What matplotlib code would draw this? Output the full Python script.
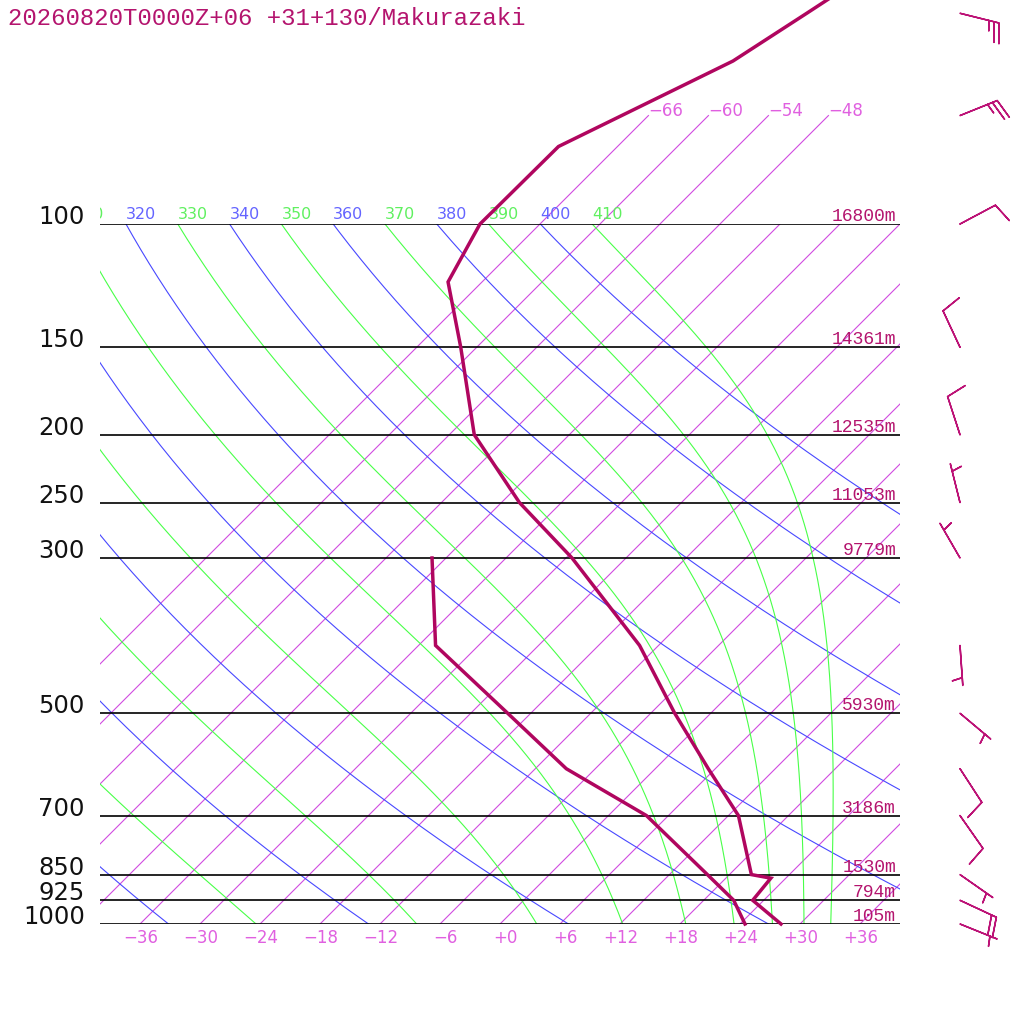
import numpy as np
import matplotlib
matplotlib.use('Agg')
import matplotlib.pyplot as plt
from matplotlib.transforms import Bbox, TransformedBbox

# sounding
pres = [1000, 925, 860, 850, 700, 600, 500, 400, 300, 250, 200, 150, 121, 100, 77.5, 58.5, 50, 40]
temp = [28.1, 22.9, 22.5, 20.2, 13.0, 5.3, -3.6, -13.9, -29.4, -40.2, -51.5, -61.6, -69.4, -72.0,
        -71.9, -63.0, -60.4, -56.8]
dew_pres = [1000, 925, 850, 700, 600, 500, 400, 300]
dewp = [24.5, 21.0, 15.8, 3.8, -8.9, -20.3, -34.3, -43.4]

wind_pres = [1000, 925, 850, 700, 600, 500, 400, 300, 250, 200, 150, 100, 70, 50]
wind_dir = [112, 115, 125, 145, 147, 130, 176, 330, 346, 342, 335, 62, 68, 104]
wind_spd = [5, 20, 5, 10, 10, 5, 5, 5, 5, 10, 10, 10, 25, 25]

levels = [1000, 925, 850, 700, 500, 300, 250, 200, 150, 100]
heights = ['105m', '794m', '1530m', '3186m', '5930m', '9779m', '11053m', '12535m', '14361m', '16800m']

iso_t = list(range(-66, 37, 6))
top_iso = [-66, -60, -54, -48]
dry_theta = list(range(240, 401, 20))
moist_theta = list(range(250, 411, 20))
label_theta = list(range(310, 411, 10))

title = '20260820T0000Z+06 +31+130/Makurazaki'

C_LINE = '#b0065f'
C_TEXT = '#b4146e'
C_ISO = '#d04ce0'
C_ISO_TXT = '#e060e0'
C_DRY = '#4848ff'
C_MOIST = '#48ff48'
KAPPA = 0.2857


def skx(t, p):
    return np.asarray(t, float) + 70.0 * np.log10(1000.0 / np.asarray(p, float))


def moist_profile(theta, p):
    # pseudo-adiabat through theta at 100 hPa, integrated downwards
    Rd, cp, Lv, eps = 287.0, 1004.0, 2.5e6, 0.622

    def dtdp(T, pp):
        es = 6.112 * np.exp(17.67 * (T - 273.15) / (T - 29.65))
        rs = eps * es / (pp - es)
        return ((Rd * T + Lv * rs) / pp) / (cp + Lv * Lv * rs * eps / (Rd * T * T))

    T = theta * (0.1 ** KAPPA)
    out = [T]
    for i in range(1, len(p)):
        p0, p1 = p[i - 1], p[i]
        h = p1 - p0
        k1 = dtdp(T, p0)
        k2 = dtdp(T + h * k1 / 2, p0 + h / 2)
        k3 = dtdp(T + h * k2 / 2, p0 + h / 2)
        k4 = dtdp(T + h * k3, p1)
        T = T + h * (k1 + 2 * k2 + 2 * k3 + k4) / 6
        out.append(T)
    return np.array(out) - 273.15


fig = plt.figure(figsize=(10.24, 10.24), dpi=100)
ax = fig.add_axes([100 / 1024, 100 / 1024, 800 / 1024, 700 / 1024])
ax.set_yscale('log')
ax.set_ylim(1000, 100)
ax.set_xlim(-40, 40)
ax.axis('off')

pp = np.logspace(3, 2, 300)

# isotherms
for t in iso_t:
    ax.plot(skx([t, t], [1000, 100]), [1000, 100], color=C_ISO, lw=0.8, zorder=1)
for t in top_iso:
    ax.plot(skx([t, t], [100, 70]), [100, 70], color=C_ISO, lw=0.8, zorder=1, clip_on=False)
    ax.text(skx(t, 70), 70, str(t).replace('-', '\u2212'), color=C_ISO_TXT, fontsize=12,
            ha='left', va='baseline', clip_on=False)

# dry adiabats
for th in dry_theta:
    tt = th * (pp / 1000.0) ** KAPPA - 273.15
    ax.plot(skx(tt, pp), pp, color=C_DRY, lw=0.8, zorder=1)

# moist adiabats
pm = np.logspace(2, 3, 300)
for th in moist_theta:
    tt = moist_profile(th, pm)
    ax.plot(skx(tt, pm), pm, color=C_MOIST, lw=0.8, zorder=1)

# theta labels at 100 hPa, clipped at the left edge of the diagram
clip = TransformedBbox(Bbox([[100 / 1024, 0], [1, 1]]), fig.transFigure)
for th in label_theta:
    x100 = th * (0.1 ** KAPPA) - 273.15 + 70
    col = '#6464ff' if th % 20 == 0 else '#60f060'
    txt = ax.annotate(str(th), (x100, 100), xytext=(0, 5), textcoords='offset pixels',
                      color=col, fontsize=11.5, ha='left', va='baseline', annotation_clip=False)
    txt.set_clip_box(clip)
    txt.set_clip_on(True)

# pressure lines, labels and heights
for p, h in zip(levels, heights):
    ax.axhline(p, color='black', lw=1.2, zorder=3)
    ax.text(-41.5, p, str(p), fontsize=17.5, color='#111111', ha='right', va='baseline',
            clip_on=False)
    ax.annotate(h, (40, p), xytext=(-4, 3), textcoords='offset pixels', color=C_TEXT,
                fontsize=13, family='Liberation Mono', ha='right', va='baseline')

# temperature axis labels
for t in range(-36, 37, 6):
    s = '+0' if t == 0 else ('%+d' % t).replace('-', '\u2212')
    ax.annotate(s, (t, 1000), xytext=(18, -19), textcoords='offset pixels',
                color=C_ISO_TXT, fontsize=12, ha='right', va='baseline', annotation_clip=False)

# temperature and dew point
ax.plot(skx(temp, pres), pres, color=C_LINE, lw=2.5, zorder=5, clip_on=False,
        solid_joinstyle='miter')
ax.plot(skx(dewp, dew_pres), dew_pres, color=C_LINE, lw=2.5, zorder=5, clip_on=False,
        solid_joinstyle='miter')

# wind barbs
wd = np.radians(wind_dir)
u = -np.array(wind_spd) * np.sin(wd)
v = -np.array(wind_spd) * np.cos(wd)
ax.barbs(np.full(len(wind_pres), 46.0), wind_pres, u, v, length=7.6, color='#bc1276',
         linewidth=1.1, sizes=dict(height=0.5, spacing=0.13, width=0.25), clip_on=False,
         zorder=6)

fig.text(8 / 1024, 1 - 25 / 1024, title, color=C_TEXT, fontsize=17.3, family='Liberation Mono',
         ha='left', va='baseline')

fig.savefig('out.png', dpi=100, facecolor='white')
